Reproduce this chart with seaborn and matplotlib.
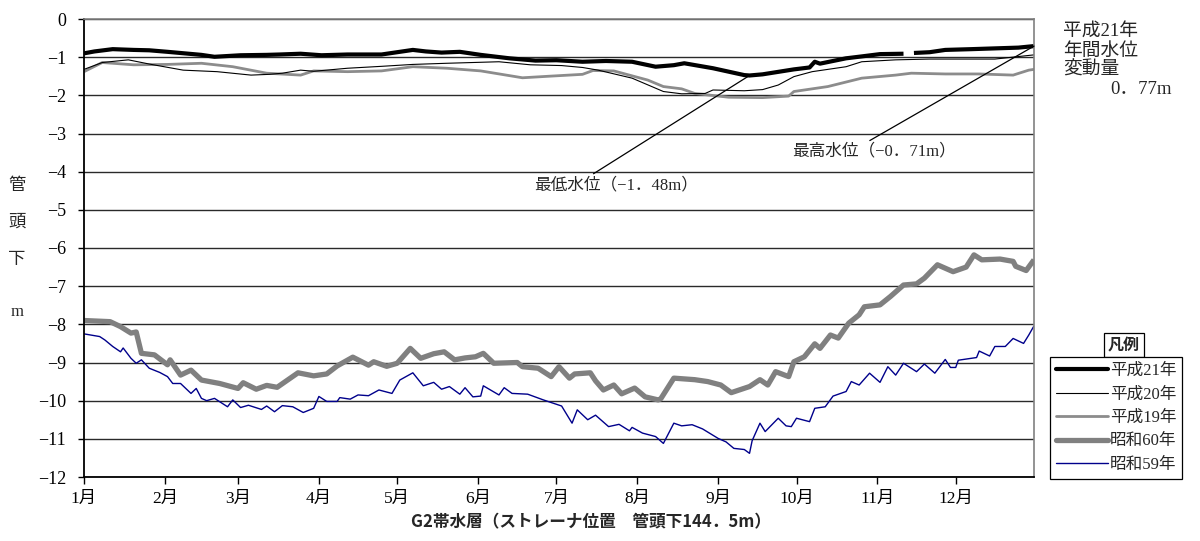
import numpy as np
import pandas as pd
import matplotlib
matplotlib.use("Agg")
import matplotlib.pyplot as plt
from matplotlib.lines import Line2D
import seaborn as sns

# Day-of-year index (0 = 1月1日) and water level below pipe head (m)
h21_day = [0, 4, 11, 19, 25, 32, 45, 50, 60, 70, 75, 83, 91, 101, 114, 121, 126, 131, 137,
           144, 152, 163, 173, 181, 191, 200, 210, 219, 226, 230, 241, 253, 255, 260, 272,
           278, 280, 282, 292, 298, 305, 314, 315, 318, 324, 330, 340, 349, 358, 364]
h21_level = [-0.90, -0.85, -0.79, -0.81, -0.82, -0.86, -0.94, -0.99, -0.95, -0.94, -0.93, -0.91,
             -0.95, -0.93, -0.93, -0.86, -0.81, -0.85, -0.88, -0.86, -0.94, -1.03, -1.09, -1.08,
             -1.12, -1.10, -1.12, -1.25, -1.21, -1.16, -1.29, -1.47, -1.48, -1.45, -1.32, -1.27,
             -1.12, -1.17, -1.03, -0.98, -0.92, -0.91, np.nan, -0.89, -0.87, -0.81, -0.79, -0.77,
             -0.75, -0.71]

h20_day = [0, 7, 17, 25, 38, 51, 64, 71, 76, 83, 88, 101, 114, 126, 139, 159, 171, 183, 191,
           197, 210, 222, 229, 238, 241, 253, 260, 266, 272, 279, 292, 298, 311, 324, 337, 349, 364]
h20_level = [-1.32, -1.14, -1.07, -1.18, -1.34, -1.38, -1.47, -1.45, -1.42, -1.34, -1.37, -1.29,
             -1.24, -1.19, -1.16, -1.12, -1.20, -1.22, -1.27, -1.34, -1.55, -1.90, -1.96, -1.95,
             -1.86, -1.88, -1.85, -1.73, -1.51, -1.38, -1.25, -1.12, -1.07, -1.05, -1.05, -1.05,
             -0.94]

h19_day = [0, 7, 19, 32, 45, 57, 70, 83, 88, 101, 114, 126, 139, 152, 168, 178, 191, 195, 203,
           216, 222, 229, 234, 247, 260, 270, 272, 285, 298, 311, 317, 330, 343, 356, 362, 364]
h19_level = [-1.38, -1.14, -1.20, -1.19, -1.16, -1.25, -1.42, -1.47, -1.36, -1.38, -1.36, -1.25,
             -1.29, -1.36, -1.54, -1.50, -1.45, -1.35, -1.36, -1.60, -1.77, -1.83, -1.95, -2.05,
             -2.06, -2.02, -1.90, -1.77, -1.55, -1.47, -1.42, -1.44, -1.44, -1.47, -1.34, -1.32]

s60_day = [0, 10, 14, 18, 20, 22, 27, 32, 33, 37, 41, 45, 52, 59, 61, 66, 70, 74, 78, 82, 88,
           93, 97, 103, 109, 111, 116, 120, 125, 129, 134, 138, 142, 146, 150, 153, 157, 166,
           168, 174, 179, 182, 186, 188, 194, 196, 199, 203, 206, 211, 215, 220, 221, 226, 234,
           239, 244, 248, 255, 259, 262, 265, 270, 272, 276, 280, 282, 286, 289, 293, 297, 299,
           305, 309, 314, 319, 322, 327, 333, 338, 341, 344, 351, 356, 357, 361, 364]
s60_level = [-7.90, -7.93, -8.06, -8.23, -8.20, -8.76, -8.80, -9.06, -8.93, -9.33, -9.20, -9.46,
             -9.55, -9.68, -9.53, -9.70, -9.60, -9.65, -9.46, -9.27, -9.35, -9.30, -9.09, -8.86,
             -9.07, -8.98, -9.10, -9.02, -8.63, -8.89, -8.77, -8.72, -8.93, -8.88, -8.85, -8.76,
             -9.02, -9.00, -9.11, -9.15, -9.37, -9.11, -9.41, -9.30, -9.27, -9.48, -9.72, -9.59,
             -9.82, -9.67, -9.90, -9.98, -9.95, -9.41, -9.45, -9.50, -9.59, -9.79, -9.63, -9.45,
             -9.59, -9.24, -9.37, -8.98, -8.85, -8.51, -8.63, -8.28, -8.36, -7.97, -7.75, -7.54,
             -7.49, -7.27, -6.97, -6.94, -6.79, -6.44, -6.62, -6.50, -6.18, -6.31, -6.29, -6.35,
             -6.48, -6.59, -6.31]

s59_day = [0, 6, 8, 11, 14, 15, 18, 20, 22, 25, 29, 32, 34, 37, 41, 43, 45, 47, 50, 55, 57, 60,
           63, 68, 70, 73, 76, 80, 84, 88, 90, 93, 97, 98, 102, 105, 109, 113, 118, 121, 126,
           130, 134, 137, 140, 144, 146, 149, 152, 153, 159, 161, 164, 170, 176, 183, 187, 189,
           193, 196, 201, 205, 209, 210, 214, 219, 222, 226, 229, 233, 237, 243, 246, 249, 253,
           255, 256, 259, 261, 266, 269, 271, 273, 278, 280, 284, 287, 292, 294, 297, 301, 305,
           308, 311, 314, 319, 322, 326, 330, 332, 334, 335, 342, 343, 347, 349, 353, 356, 360,
           362, 364]
s59_level = [-8.25, -8.32, -8.41, -8.58, -8.72, -8.62, -8.89, -9.02, -8.93, -9.15, -9.26, -9.37,
             -9.55, -9.55, -9.81, -9.68, -9.94, -10.00, -9.94, -10.16, -9.98, -10.18, -10.12,
             -10.23, -10.14, -10.29, -10.13, -10.16, -10.31, -10.20, -9.89, -10.02, -10.02, -9.92,
             -9.96, -9.85, -9.87, -9.72, -9.81, -9.46, -9.27, -9.61, -9.52, -9.70, -9.63, -9.83,
             -9.66, -9.90, -9.88, -9.61, -9.85, -9.66, -9.81, -9.83, -9.98, -10.14, -10.59,
             -10.24, -10.50, -10.38, -10.68, -10.62, -10.79, -10.70, -10.85, -10.94, -11.12,
             -10.59, -10.66, -10.63, -10.74, -10.99, -11.08, -11.25, -11.28, -11.38, -11.05,
             -10.59, -10.81, -10.46, -10.66, -10.68, -10.46, -10.55, -10.20, -10.16, -9.88, -9.76,
             -9.50, -9.59, -9.28, -9.52, -9.11, -9.33, -9.02, -9.24, -9.04, -9.28, -8.92, -9.13,
             -9.13, -8.94, -8.87, -8.70, -8.83, -8.58, -8.58, -8.37, -8.50, -8.28, -8.04]

series_names = ["平成21年", "平成20年", "平成19年", "昭和60年", "昭和59年"]
month_starts = [0, 31, 59, 90, 120, 151, 181, 212, 243, 273, 304, 334]
month_labels = ["1月", "2月", "3月", "4月", "5月", "6月", "7月", "8月", "9月", "10月", "11月", "12月"]
y_ticks = list(range(0, -13, -1))

max_day, max_level = 364, -0.71
min_day, min_level = 255, -1.48
annual_range = "0．77m"

frames = []
for name, d, v in zip(series_names,
                      [h21_day, h20_day, h19_day, s60_day, s59_day],
                      [h21_level, h20_level, h19_level, s60_level, s59_level]):
    f = pd.DataFrame({"day": d, "level": v, "series": name})
    f["seg"] = f["level"].isna().cumsum()
    frames.append(f.dropna())
df = pd.concat(frames, ignore_index=True)

styles = {
    "平成21年": dict(color="black", linewidth=3.0),
    "平成20年": dict(color="black", linewidth=0.8),
    "平成19年": dict(color="#8c8c8c", linewidth=2.0),
    "昭和60年": dict(color="#808080", linewidth=3.8),
    "昭和59年": dict(color="#00008b", linewidth=1.0),
}

sns.set_theme(style="white")
serif_jp = ["Liberation Serif", "Noto Sans CJK JP"]
plt.rcParams["font.family"] = serif_jp

fig = plt.figure(figsize=(12.0, 5.41), dpi=100)
ax = fig.add_axes([84 / 1200, 1 - 477 / 541, 950 / 1200, 458 / 541])

for name in ["昭和60年", "昭和59年", "平成19年", "平成20年", "平成21年"]:
    sub = df[df["series"] == name]
    sns.lineplot(data=sub, x="day", y="level", units="seg", estimator=None, sort=False,
                 ax=ax, legend=False, solid_capstyle="butt", **styles[name])

ax.set_xlim(0, 364)
ax.set_ylim(-12, 0)
ax.set_xticks(month_starts)
ax.set_xticklabels(month_labels)
ax.set_yticks(y_ticks)
ax.set_yticklabels([str(t).replace("-", "\u2212") for t in y_ticks])
ax.set_xlabel("")
ax.set_ylabel("")
ax.tick_params(axis="x", direction="out", length=5, width=1, colors="black", pad=5,
               labelsize=12.5, bottom=True)
ax.tick_params(axis="y", direction="out", length=4, width=1, colors="black", pad=9,
               labelsize=13, left=True)
ax.yaxis.grid(True, color="#2a2a2a", linewidth=1.0)
ax.xaxis.grid(False)
for side in ["left", "bottom"]:
    ax.spines[side].set_color("black")
    ax.spines[side].set_linewidth(1.3)
for side in ["top", "right"]:
    ax.spines[side].set_color("#808080")
    ax.spines[side].set_linewidth(1.2)

# Extremes of 平成21年
ax.annotate("最高水位（\u22120．71m）", xy=(max_day, max_level), xytext=(271.3, -3.48),
            ha="left", va="center", fontsize=12,
            arrowprops=dict(arrowstyle="-", color="black", lw=0.9, relpos=(0.44, 1.0),
                            shrinkA=0, shrinkB=0))
ax.annotate("最低水位（\u22121．48m）", xy=(min_day, min_level), xytext=(172.5, -4.35),
            ha="left", va="center", fontsize=12,
            arrowprops=dict(arrowstyle="-", color="black", lw=0.9, relpos=(0.33, 1.0),
                            shrinkA=0, shrinkB=0))

# Axis captions
fig.text(591 / 1200, 1 - 522 / 541, "G2帯水層（ストレーナ位置　管頭下144．5m）",
         ha="center", va="center", fontsize=12, fontweight="bold",
         family=["Noto Sans CJK JP", "DejaVu Sans"])
for ch, yp, fs in [("管", 186, 12.5), ("頭", 223, 12.5), ("下", 260, 12.5), ("m", 312, 12)]:
    fig.text(17 / 1200, 1 - yp / 541, ch, ha="center", va="center", fontsize=fs)

# Annual fluctuation note
for line, xp, yp in [("平成21年", 1063, 31), ("年間水位", 1063, 51), ("変動量", 1063, 70),
                     (annual_range, 1110, 90)]:
    fig.text(xp / 1200, 1 - yp / 541, line, ha="left", va="center", fontsize=13.5)

# Legend
handles = [Line2D([0], [0], **styles[n]) for n in series_names]
leg = fig.legend(handles, series_names, loc="upper left",
                 bbox_to_anchor=(1050 / 1200, 1 - 357 / 541), frameon=True, fancybox=False,
                 edgecolor="black", framealpha=1.0, fontsize=12, handlelength=3.1,
                 handletextpad=0.15, labelspacing=0.45, borderpad=0.35, borderaxespad=0.0)
leg.get_frame().set_linewidth(0.9)
fig.text(1124 / 1200, 1 - 345 / 541, "凡例", ha="center", va="center", fontsize=11.5,
         fontweight="bold", family=["Noto Sans CJK JP", "DejaVu Sans"],
         bbox=dict(boxstyle="square,pad=0.25", fc="white", ec="black", lw=0.9))

fig.savefig("out.png", dpi=100, facecolor="white")
